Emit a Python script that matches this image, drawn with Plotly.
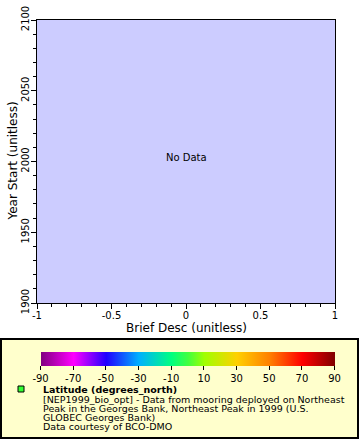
import plotly.graph_objects as go

# ---- data ----
x_range = [-1, 1]
y_range = [1900, 2100]
x_ticks = [-1, -0.5, 0, 0.5, 1]
x_tick_labels = ["-1", "-0.5", "0", "0.5", "1"]
y_ticks = [1900, 1950, 2000, 2050, 2100]
y_tick_labels = ["1900", "1950", "2000", "2050", "2100"]
cbar_ticks = [-90, -70, -50, -30, -10, 10, 30, 50, 70, 90]
cbar_range = [-90, 90]
legend_lines = [
    "[NEP1999_bio_opt] - Data from mooring deployed on Northeast",
    "Peak in the Georges Bank, Northeast Peak in 1999 (U.S.",
    "GLOBEC Georges Bank)",
    "Data courtesy of BCO-DMO",
]
legend_title = "Latitude (degrees_north)"
x_title = "Brief Desc (unitless)"
y_title = "Year Start (unitless)"

W, H = 360, 440
L, R, T, B = 37, 335, 20, 303
FONT = "DejaVu Sans"

def px_x(p):
    return (p - L) / (R - L)

def px_y(p):
    return (B - p) / (B - T)

colorscale = [
    [0.0, "#800080"],
    [0.111, "#ff00ff"],
    [0.222, "#2000ff"],
    [0.333, "#00b0ff"],
    [0.444, "#00ff80"],
    [0.5, "#40ff40"],
    [0.556, "#a0ff00"],
    [0.667, "#ffd000"],
    [0.778, "#ff8000"],
    [0.889, "#ff0000"],
    [1.0, "#800000"],
]

fig = go.Figure()
fig.add_trace(go.Scatter(
    x=[None, None], y=[None, None], mode="markers",
    marker=dict(
        color=cbar_range, cmin=cbar_range[0], cmax=cbar_range[1],
        colorscale=colorscale, showscale=True,
        colorbar=dict(
            orientation="h",
            xref="container", yref="container",
            x=49 / W, xanchor="left",
            y=1 - 352 / H, yanchor="top",
            len=294, lenmode="pixels",
            thickness=14, thicknessmode="pixels",
            xpad=0, ypad=0, outlinewidth=0,
            tickvals=cbar_ticks, ticktext=[str(v) for v in cbar_ticks],
            ticklabeloverflow="allow",
            ticks="outside", ticklen=4, tickcolor="black",
            tickfont=dict(family=FONT, size=10, color="black"),
        ),
    ),
    showlegend=False, hoverinfo="skip",
))

shapes = [
    dict(type="rect", xref="paper", yref="paper",
         x0=px_x(1), x1=px_x(358), y0=px_y(339), y1=px_y(438),
         fillcolor="#ffffcc", line=dict(color="black", width=2), layer="below"),
    dict(type="rect", xref="paper", yref="paper",
         x0=px_x(18), x1=px_x(24), y0=px_y(386), y1=px_y(392),
         fillcolor="#33ff33", line=dict(color="black", width=1)),
]

annotations = [
    dict(x=0, y=2000, xref="x", yref="y", text="No Data", showarrow=False,
         yshift=4, font=dict(family=FONT, size=10, color="black")),
    dict(x=px_x(12), y=0.5, xref="paper", yref="paper", text=y_title,
         textangle=-90, showarrow=False, xanchor="center", yanchor="middle",
         borderpad=0, font=dict(family=FONT, size=12, color="black")),
    dict(x=0.5, y=px_y(328), xref="paper", yref="paper", text=x_title,
         showarrow=False, xanchor="center", yanchor="middle",
         borderpad=0, font=dict(family=FONT, size=12, color="black")),
    dict(x=px_x(42), y=px_y(389), xref="paper", yref="paper", xanchor="left",
         yanchor="middle", text="<b>" + legend_title + "</b>", showarrow=False,
         borderpad=0, font=dict(family=FONT, size=9.5, color="black")),
]
for i, line in enumerate(legend_lines):
    annotations.append(dict(
        x=px_x(42), y=px_y(399 + 9.2 * i), xref="paper", yref="paper",
        xanchor="left", yanchor="middle", text=line, showarrow=False,
        borderpad=0, font=dict(family=FONT, size=9.5, color="black")))

fig.update_layout(
    width=W, height=H,
    margin=dict(l=L, r=W - R, t=T, b=H - B, pad=0, autoexpand=False),
    paper_bgcolor="white", plot_bgcolor="#ccccff",
    shapes=shapes, annotations=annotations,
    showlegend=False,
    xaxis=dict(
        range=x_range, tickvals=x_ticks, ticktext=x_tick_labels,
        ticks="outside", ticklen=5, tickcolor="black", automargin=False,
        ticklabelstandoff=-2,
        minor=dict(dtick=0.1, ticks="outside", ticklen=3, tickcolor="black"),
        showline=True, linecolor="black", linewidth=1, mirror=True,
        showgrid=False, zeroline=False,
        tickfont=dict(family=FONT, size=10, color="black"),
    ),
    yaxis=dict(
        range=y_range, tickvals=y_ticks, ticktext=y_tick_labels,
        ticks="outside", ticklen=5, tickcolor="black", tickangle=-90,
        automargin=False, ticklabelstandoff=-2,
        minor=dict(dtick=10, ticks="outside", ticklen=3, tickcolor="black"),
        showline=True, linecolor="black", linewidth=1, mirror=True,
        showgrid=False, zeroline=False,
        tickfont=dict(family=FONT, size=10, color="black"),
    ),
)

fig.write_html("out.html", config={"displayModeBar": False},
               post_script="document.body.style.margin='0px';")
